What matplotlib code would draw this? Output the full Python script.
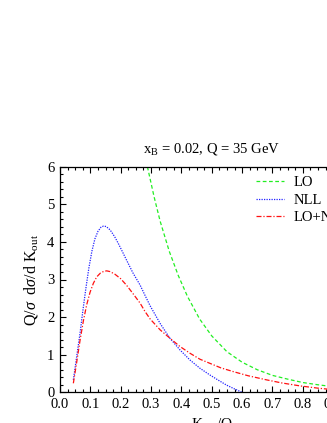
import matplotlib
matplotlib.use("Agg")
import matplotlib.pyplot as plt
from matplotlib.ticker import MultipleLocator

plt.rcParams['font.family'] = ['Liberation Serif', 'DejaVu Serif']
plt.rcParams['mathtext.fontset'] = 'custom'
plt.rcParams['mathtext.rm'] = 'Liberation Serif'
plt.rcParams['mathtext.it'] = 'Liberation Serif:italic'

# LO
x_lo = [0.288, 0.31, 0.33, 0.36, 0.39, 0.42, 0.46, 0.50, 0.55, 0.60, 0.65, 0.70, 0.75, 0.80, 0.85, 0.90, 1.00]
y_lo = [6.0, 5.2, 4.55, 3.75, 3.1, 2.55, 1.95, 1.5, 1.08, 0.8, 0.6, 0.45, 0.35, 0.26, 0.2, 0.15, 0.1]

# NLL
x_nll = [0.044, 0.055, 0.066, 0.075, 0.085, 0.095, 0.105, 0.115, 0.125, 0.135, 0.143, 0.152, 0.165,
         0.18, 0.192, 0.205, 0.219, 0.24, 0.264, 0.28, 0.297, 0.33, 0.362, 0.395, 0.428, 0.461,
         0.494, 0.52, 0.549, 0.575, 0.60]
y_nll = [0.33, 0.95, 1.57, 2.15, 2.75, 3.30, 3.75, 4.08, 4.28, 4.39, 4.42, 4.41, 4.32,
         4.14, 3.96, 3.75, 3.52, 3.18, 2.85, 2.58, 2.30, 1.83, 1.44, 1.13, 0.86, 0.64,
         0.46, 0.33, 0.19, 0.09, 0.0]

# LO+NLL
x_sum = [0.044, 0.055, 0.066, 0.077, 0.088, 0.099, 0.110, 0.121, 0.133, 0.145, 0.154, 0.165, 0.181,
         0.20, 0.219, 0.24, 0.264, 0.28, 0.297, 0.33, 0.362, 0.395, 0.428, 0.461, 0.494, 0.53,
         0.571, 0.62, 0.681, 0.73, 0.791, 0.85, 0.90, 1.00]
y_sum = [0.24, 0.80, 1.38, 1.90, 2.33, 2.66, 2.90, 3.07, 3.17, 3.22, 3.23, 3.21, 3.14,
         3.02, 2.85, 2.63, 2.37, 2.15, 1.95, 1.66, 1.44, 1.22, 1.04, 0.88, 0.77, 0.65,
         0.55, 0.44, 0.33, 0.25, 0.17, 0.11, 0.07, 0.03]

W, H = 327, 423
fig = plt.figure(figsize=(W / 100, H / 100), dpi=100)
ax = fig.add_axes([60 / W, (H - 392.3) / H, 303.5 / W, (392.3 - 166.7) / H])

ax.plot(x_lo, y_lo, color='#22ee22', lw=0.9, ls=(0, (3, 2)), label='LO')
ax.plot(x_nll, y_nll, color='#2222ff', lw=0.9, ls=(0, (1, 1)), label='NLL')
ax.plot(x_sum, y_sum, color='#ff1111', lw=0.9, ls=(0, (4, 1.5, 1, 1.5)), label='LO+NLL')

ax.set_xlim(0, 1.0)
ax.set_ylim(0, 6)
ax.xaxis.set_major_locator(MultipleLocator(0.1))
ax.xaxis.set_minor_locator(MultipleLocator(0.025))
ax.yaxis.set_major_locator(MultipleLocator(1))
ax.yaxis.set_minor_locator(MultipleLocator(0.2))
ax.xaxis.set_major_formatter(matplotlib.ticker.FormatStrFormatter('%.1f'))
ax.tick_params(which='both', direction='in', top=True, right=True, labelsize=10.5, pad=4)
ax.tick_params(which='major', length=4.5, width=0.8)
ax.tick_params(which='minor', length=2.5, width=0.8)
for s in ax.spines.values():
    s.set_linewidth(0.9)

ax.set_title(r'x$_\mathrm{B}$ = 0.02, Q = 35 GeV', fontsize=10.5, pad=10)
ax.set_ylabel(r'Q/$\sigma$  d$\sigma$/d K$_\mathrm{out}$', fontsize=11.5, labelpad=5)
ax.set_xlabel(r'K$_\mathrm{out}$/Q', fontsize=11, labelpad=4)

leg = ax.legend(loc='upper left', bbox_to_anchor=(256 / W, (H - 176) / H),
                bbox_transform=fig.transFigure, frameon=False, fontsize=10.5,
                handlelength=1.9, handletextpad=0.7, labelspacing=0.3, borderpad=0, borderaxespad=0)

fig.savefig('out.png', dpi=100)
